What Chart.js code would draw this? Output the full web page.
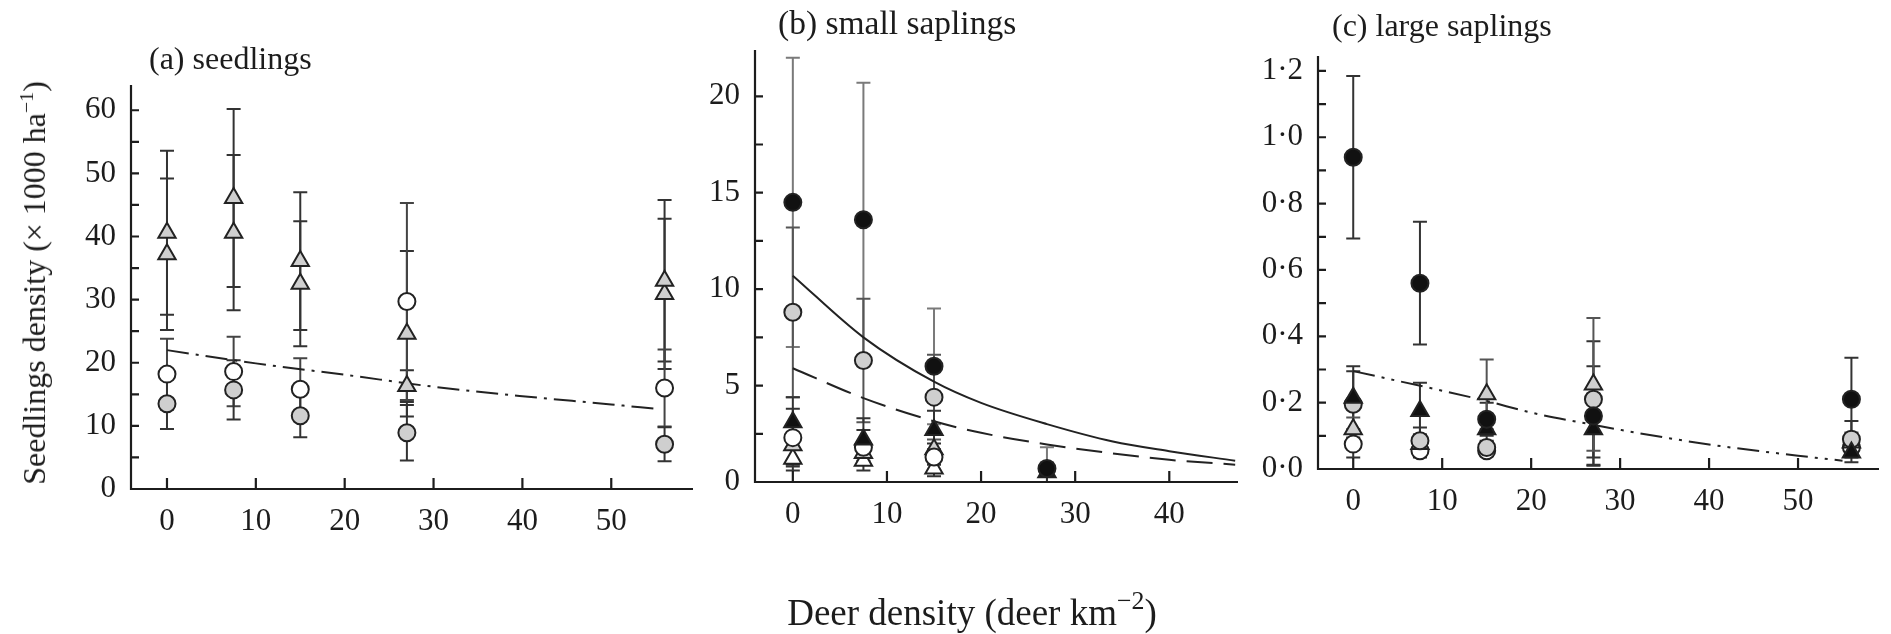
<!DOCTYPE html>
<html>
<head>
<meta charset="utf-8">
<script src="https://cdn.jsdelivr.net/npm/chart.js@4.4.1/dist/chart.umd.min.js"></script>
<style>
  body { margin: 0; background: #fff; }
  #fig { position: relative; width: 1891px; height: 634px; overflow: hidden;
         font-family: "Liberation Serif", "DejaVu Serif", serif; color: #1c1c1c; }
  .panel { position: absolute; top: 0; height: 634px; }
  .txt { position: absolute; white-space: nowrap; font-size: 32px; line-height: 1; }
  .txt sup { font-size: 0.62em; line-height: 0; vertical-align: 0.6em; }
  .xlab sup { font-size: 0.7em; }
</style>
</head>
<body>
<div id="fig">
  <div class="panel" style="left:0;width:705px"><canvas id="seedlings" width="705" height="634"></canvas></div>
  <div class="panel" style="left:680px;width:570px"><canvas id="smallSaplings" width="570" height="634"></canvas></div>
  <div class="panel" style="left:1240px;width:651px"><canvas id="largeSaplings" width="651" height="634"></canvas></div>

  <div class="txt" style="left:149px;top:42px">(a) seedlings</div>
  <div class="txt" style="left:778px;top:6px;font-size:33.5px">(b) small saplings</div>
  <div class="txt" style="left:1332px;top:9px">(c) large saplings</div>
  <div class="txt" style="left:34px;top:283px;transform:translate(-50%,-50%) rotate(-90deg)">Seedlings density (× 1000 ha<sup>−1</sup>)</div>
  <div class="txt xlab" style="left:972px;top:612px;font-size:37px;transform:translate(-50%,-50%)">Deer density (deer km<sup>−2</sup>)</div>
</div>

<script>
// deer densities of the sampled sites
const deerA = [0, 7.5, 15, 27, 56];
const deerB = [0, 7.5, 15, 27];
const deerC = [0, 7.5, 15, 27, 56];

// (a) seedlings, means and error bars
const seedTriUpper = [40.6, 46.1, 36.1, 24.6, 33.0];
const seedTriUpperErr = [13.0, 14.1, 10.9, 13.1, 12.8];
const seedTriLower = [37.2, 40.6, 32.5, 16.3, 30.9];
const seedTriLowerErr = [12.0, 12.3, 9.9, 2.5, 11.9];
const seedOpenCirc = [18.2, 18.6, 15.8, 29.7, 16.0];
const seedOpenCircErr = [5.6, 5.5, 4.9, 15.6, 6.1];
const seedGreyCirc = [13.5, 15.7, 11.6, 8.9, 7.1];
const seedGreyCircErr = [4.0, 4.7, 3.4, 4.4, 2.7];
const seedFitX = [0, 10, 20, 30, 40, 50, 55];
const seedFitY = [22.0, 19.9, 18.1, 16.2, 14.7, 13.4, 12.7];

// (b) small saplings
const smallBlackCirc = [14.5, 13.6, 6.0, 0.7];
const smallBlackCircErr = [7.5, 7.1, 3.0, 1.1];
const smallGreyCirc = [8.8, 6.3, 4.4, null];
const smallGreyCircErr = [4.4, 3.2, 2.2, null];
const smallBlackTri = [3.1, 2.2, 2.7, 0.5];
const smallBlackTriErr = [1.3, 1.1, 1.0, 0.5];
const smallOpenCirc = [2.3, 1.8, 1.3, null];
const smallOpenCircErr = [1.5, 0.9, 0.7, null];
const smallGreyTri = [1.9, 1.5, 1.7, null];
const smallGreyTriErr = [1.0, 0.6, 0.8, null];
const smallOpenTri = [1.2, 1.1, 0.7, null];
const smallOpenTriErr = [0.6, 0.5, 0.4, null];
const smallFitX = [0, 7.5, 15, 20, 27, 34, 40, 47];
const smallFitSolid = [10.7, 7.5, 5.2, 4.1, 3.0, 2.1, 1.6, 1.1];
const smallFitDashed = [5.9, 4.35, 3.15, 2.55, 1.95, 1.48, 1.15, 0.9];

// (c) large saplings
const largeBlackCirc = [0.94, 0.56, 0.15, 0.16, 0.21];
const largeBlackCircErr = [0.245, 0.185, 0.05, 0.15, 0.125];
const largeBlackTri = [0.215, 0.175, 0.12, 0.12, 0.05];
const largeBlackTriErr = [0.095, 0.085, 0.04, 0.107, 0.03];
const largeGreyCirc = [0.195, 0.085, 0.065, 0.21, 0.09];
const largeGreyCircErr = [0.1, 0.04, 0.02, 0.175, 0.055];
const largeGreyTri = [0.12, 0.075, 0.225, 0.255, 0.08];
const largeGreyTriErr = [0.035, 0.03, 0.105, 0.2, 0.03];
const largeOpenCirc = [0.075, 0.055, 0.055, null, 0.065];
const largeOpenCircErr = [0.04, 0.02, 0.015, null, 0.02];
const largeFitX = [0, 10, 15, 20, 27, 30, 40, 50, 55];
const largeFitY = [0.295, 0.236, 0.205, 0.17, 0.133, 0.118, 0.074, 0.04, 0.025];

// axis ticks
const ticksXA = [0, 10, 20, 30, 40, 50];
const ticksXB = [0, 10, 20, 30, 40];
const ticksXC = [0, 10, 20, 30, 40, 50];
const ticksYA = [0, 5, 10, 15, 20, 25, 30, 35, 40, 45, 50, 55, 60];
const ticksYB = [0, 2.5, 5, 7.5, 10, 12.5, 15, 17.5, 20];
const ticksYC = [0, 0.1, 0.2, 0.3, 0.4, 0.5, 0.6, 0.7, 0.8, 0.9, 1.0, 1.1, 1.2];

const ink = '#1c1c1c';
const markers = {
  blackCirc: { pointStyle: 'circle', fill: '#111', radius: 8.5 },
  greyCirc:  { pointStyle: 'circle', fill: '#cfcfcf', radius: 8.5 },
  openCirc:  { pointStyle: 'circle', fill: '#ffffff', radius: 8.5 },
  blackTri:  { pointStyle: 'triangle', fill: '#111', radius: 10 },
  greyTri:   { pointStyle: 'triangle', fill: '#cfcfcf', radius: 10 },
  openTri:   { pointStyle: 'triangle', fill: '#ffffff', radius: 10 }
};

function pairs(xs, ys) {
  return xs.map((x, i) => ({ x: x, y: ys[i] }));
}

function series(kind, xs, ys, errs, barColor) {
  const m = markers[kind];
  return {
    type: 'scatter',
    data: pairs(xs, ys),
    errors: errs,
    errorColor: barColor || '#333',
    pointStyle: m.pointStyle,
    pointRadius: m.radius,
    pointHoverRadius: m.radius,
    pointBackgroundColor: m.fill,
    pointBorderColor: '#222',
    pointBorderWidth: 2,
    order: 0
  };
}

function fitLine(xs, ys, dash) {
  return {
    type: 'line',
    data: pairs(xs, ys),
    showLine: true,
    borderColor: '#222',
    borderWidth: 2,
    borderDash: dash,
    pointRadius: 0,
    fill: false,
    tension: 0.4,
    cubicInterpolationMode: 'monotone',
    order: 1
  };
}

// vertical error bars with caps, drawn under the markers
const errorBars = {
  id: 'errorBars',
  beforeDatasetsDraw(chart) {
    const { ctx, scales: { x, y } } = chart;
    chart.data.datasets.forEach(ds => {
      if (!ds.errors) return;
      ctx.save();
      ctx.strokeStyle = ds.errorColor;
      ctx.lineWidth = 2;
      ds.data.forEach((p, i) => {
        const e = ds.errors[i];
        if (p.y == null || e == null) return;
        const px = x.getPixelForValue(p.x);
        const hi = y.getPixelForValue(p.y + e);
        const lo = y.getPixelForValue(Math.max(p.y - e, 0));
        ctx.beginPath();
        ctx.moveTo(px, hi); ctx.lineTo(px, lo);
        ctx.moveTo(px - 7, hi); ctx.lineTo(px + 7, hi);
        ctx.moveTo(px - 7, lo); ctx.lineTo(px + 7, lo);
        ctx.stroke();
      });
      ctx.restore();
    });
  }
};

// L-shaped axes with ticks pointing into the plot
const inwardAxes = {
  id: 'inwardAxes',
  afterDraw(chart) {
    const { ctx, chartArea: a, scales: { x, y } } = chart;
    ctx.save();
    ctx.strokeStyle = ink;
    ctx.lineWidth = 2.2;
    ctx.beginPath();
    ctx.moveTo(a.left, a.top);
    ctx.lineTo(a.left, a.bottom);
    ctx.lineTo(a.right, a.bottom);
    x.ticks.forEach(t => {
      const px = x.getPixelForValue(t.value);
      ctx.moveTo(px, a.bottom); ctx.lineTo(px, a.bottom - 11);
    });
    y.ticks.forEach(t => {
      const py = y.getPixelForValue(t.value);
      ctx.moveTo(a.left, py); ctx.lineTo(a.left + 8, py);
    });
    ctx.stroke();
    ctx.restore();
  }
};

function buildPanel(canvasId, datasets, cfg) {
  new Chart(document.getElementById(canvasId), {
    type: 'scatter',
    plugins: [errorBars, inwardAxes],
    data: { datasets: datasets },
    options: {
      responsive: false,
      animation: false,
      events: [],
      layout: { padding: { left: 0, right: cfg.right, top: cfg.top, bottom: cfg.bottom } },
      plugins: { legend: { display: false }, tooltip: { enabled: false }, title: { display: false } },
      scales: {
        x: {
          type: 'linear',
          min: cfg.xMin, max: cfg.xMax,
          grid: { display: false, drawTicks: false },
          border: { display: false },
          afterBuildTicks: axis => { axis.ticks = cfg.xTicks.map(v => ({ value: v })); },
          afterFit: s => { s.height = 60; s.paddingLeft = 0; s.paddingRight = 0; },
          ticks: {
            autoSkip: false, maxRotation: 0, padding: 14, color: ink,
            font: { family: 'Liberation Serif', size: 31 }
          }
        },
        y: {
          type: 'linear',
          min: 0, max: cfg.yMax,
          grid: { display: false, drawTicks: false },
          border: { display: false },
          afterBuildTicks: axis => { axis.ticks = cfg.yTicks.map(v => ({ value: v })); },
          afterFit: s => { s.width = cfg.axisLeft; s.paddingTop = 0; s.paddingBottom = 0; },
          ticks: {
            autoSkip: false, padding: 15, color: ink,
            font: { family: 'Liberation Serif', size: 31 },
            callback: cfg.yLabel
          }
        }
      }
    }
  });
}

buildPanel('seedlings', [
  series('greyTri', deerA, seedTriUpper, seedTriUpperErr),
  series('greyTri', deerA, seedTriLower, seedTriLowerErr),
  series('openCirc', deerA, seedOpenCirc, seedOpenCircErr, '#444'),
  series('greyCirc', deerA, seedGreyCirc, seedGreyCircErr),
  fitLine(seedFitX, seedFitY, [22, 7, 3, 7])
], {
  axisLeft: 131, right: 12, top: 85, bottom: 85,
  xMin: -4.05, xMax: 59.2, yMax: 64, xTicks: ticksXA, yTicks: ticksYA,
  yLabel: v => (v % 10 === 0 ? String(v) : '')
});

buildPanel('smallSaplings', [
  series('blackCirc', deerB, smallBlackCirc, smallBlackCircErr, '#7a7a7a'),
  series('greyCirc', deerB, smallGreyCirc, smallGreyCircErr, '#555'),
  series('blackTri', deerB, smallBlackTri, smallBlackTriErr),
  series('openCirc', deerB, smallOpenCirc, smallOpenCircErr),
  series('greyTri', deerB, smallGreyTri, smallGreyTriErr),
  series('openTri', deerB, smallOpenTri, smallOpenTriErr),
  fitLine(smallFitX, smallFitSolid, []),
  fitLine(smallFitX, smallFitDashed, [26, 11])
], {
  axisLeft: 75, right: 10, top: 50, bottom: 92,
  xMin: -4.02, xMax: 47.3, yMax: 22.4, xTicks: ticksXB, yTicks: ticksYB,
  yLabel: v => (v % 5 === 0 ? String(v) : '')
});

buildPanel('largeSaplings', [
  series('blackCirc', deerC, largeBlackCirc, largeBlackCircErr),
  series('blackTri', deerC, largeBlackTri, largeBlackTriErr),
  series('greyCirc', deerC, largeGreyCirc, largeGreyCircErr),
  series('greyTri', deerC, largeGreyTri, largeGreyTriErr, '#555'),
  series('openCirc', deerC, largeOpenCirc, largeOpenCircErr),
  fitLine(largeFitX, largeFitY, [22, 7, 3, 7, 3, 7])
], {
  axisLeft: 78, right: 0, top: 56, bottom: 105,
  xMin: -3.96, xMax: 59.1, yMax: 1.245, xTicks: ticksXC, yTicks: ticksYC,
  yLabel: v => (Math.round(v * 10) % 2 === 0 ? v.toFixed(1).replace('.', '·') : '')
});
</script>
</body>
</html>
